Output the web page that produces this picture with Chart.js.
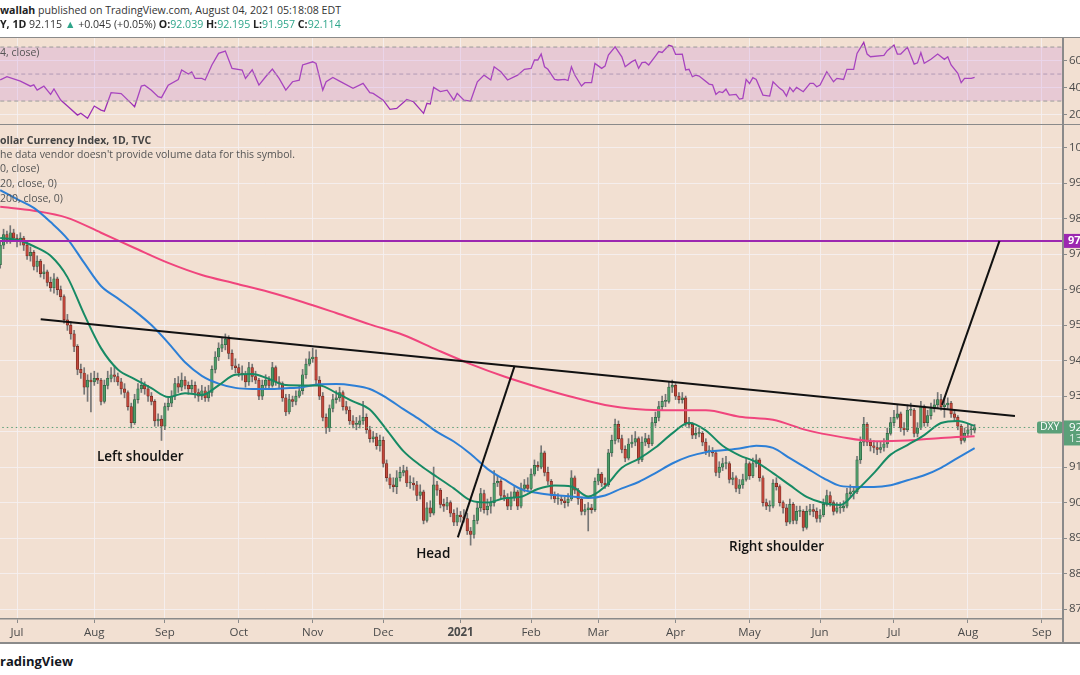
<!DOCTYPE html>
<html><head><meta charset="utf-8">
<script src="https://cdn.jsdelivr.net/npm/chart.js@4.4.1/dist/chart.umd.min.js"></script>
<style>
html,body{margin:0;padding:0;background:#fff;width:1080px;height:675px;overflow:hidden;font-family:"Open Sans",sans-serif;}
.abs{position:absolute;white-space:nowrap;}
#frame{position:absolute;left:0;top:37px;width:1080px;height:606px;background:#f2e0d2;}
.hl{position:absolute;left:0;width:1080px;background:#8a8a8a;}
.txt{font-size:10.5px;line-height:14px;color:#555;z-index:5;}
.hdr{font-size:10.6px;line-height:14px;color:#333;z-index:5;}
.teal{color:#2ea58a;}
b{font-weight:700;color:#222;}
.pre{visibility:hidden;}
canvas{position:absolute;left:0;}
</style></head>
<body>
<div id="frame"></div>
<canvas id="rsi" width="1080" height="86" style="top:38px"></canvas>
<canvas id="main" width="1080" height="518" style="top:125px"></canvas>
<div class="hl" style="top:37px;height:1px"></div>
<div class="hl" style="top:123.5px;height:1.5px"></div>
<div class="hl" style="top:642px;height:1.5px"></div>
<div class="abs" style="left:1062.3px;top:37px;width:1.5px;height:606px;background:#8a8a8a"></div>

<div class="abs hdr" style="left:0;top:3px"><b>wallah</b> published on TradingView.com, August 04, 2021 05:18:08 EDT</div>
<div class="abs hdr cut" style="top:17px"><span class="pre"><b>DX</b></span><b>Y, 1D</b> 92.115 <span class="teal">▲</span> +0.045 (+0.05%) <b>O:</b><span class="teal">92.039</span> <b>H:</b><span class="teal">92.195</span> <b>L:</b><span class="teal">91.957</span> <b>C:</b><span class="teal">92.114</span></div>
<div class="abs txt cut" style="top:45px"><span class="pre">RSI (1</span>4, close)</div>
<div class="abs txt cut" style="top:133px"><span class="pre"><b>U.S. D</b></span><b style="color:#444">ollar Currency Index, 1D, TVC</b></div>
<div class="abs txt cut" style="top:147px"><span class="pre">Volume: T</span>he data vendor doesn't provide volume data for this symbol.</div>
<div class="abs txt cut" style="top:161px"><span class="pre">MA (5</span>0, close)</div>
<div class="abs txt cut" style="top:176px"><span class="pre">EMA (</span>20, close, 0)</div>
<div class="abs txt cut" style="top:191px"><span class="pre">EMA (</span>200, close, 0)</div>
<div class="abs cut" style="top:652px;font-size:13px;font-weight:700;color:#131722"><span class="pre">T</span>radingView</div>

<script>
// ---------- DATA ----------
const firstIndex = -5;              // first bar = 24 Jun 2020 (index 0 = 1 Jul 2020)
const opens = [
96.70,97.25,97.55,97.40,97.60,97.45,97.35,97.45,97.25,96.95,
97.05,96.65,96.80,96.45,96.50,96.20,96.05,96.30,96.00,95.80,
95.15,95.00,94.75,94.40,93.75,93.65,93.25,93.45,93.40,93.50,
93.45,92.85,93.30,93.50,93.60,93.55,93.40,93.20,93.10,92.70,
92.25,92.90,93.20,93.30,93.20,93.00,92.85,92.30,92.35,92.15,
92.70,92.80,93.00,93.35,93.25,93.45,93.30,93.20,93.30,93.10,
93.00,93.15,92.95,93.10,93.75,94.10,94.35,94.45,94.60,94.20,
93.85,93.80,93.65,93.60,93.40,93.80,93.55,93.45,93.00,93.30,
93.45,93.30,93.80,93.40,93.35,92.95,92.55,92.90,92.85,93.00,
93.15,93.60,93.90,94.05,94.10,93.45,93.00,92.40,92.10,92.65,
92.90,92.95,93.10,92.70,92.60,92.30,92.20,92.20,92.30,92.40,
92.05,91.80,91.85,91.60,91.75,91.10,90.70,90.50,90.45,90.70,
90.85,90.90,90.55,90.55,90.50,90.20,90.30,89.50,89.85,89.70,
90.50,90.35,89.95,89.90,90.00,89.70,89.45,89.65,89.60,89.55,
89.20,89.10,89.50,89.85,90.25,89.80,89.90,90.00,90.55,90.60,
90.20,90.15,89.90,90.15,90.30,89.90,90.40,90.50,90.40,90.80,
91.05,91.00,91.40,90.85,90.60,90.20,90.10,90.10,90.05,90.00,
90.10,90.70,90.35,90.10,89.75,89.80,89.85,89.80,90.60,90.80,
90.55,90.50,91.40,91.75,92.20,91.80,91.50,91.25,91.65,91.70,
91.80,91.20,91.70,91.80,91.65,92.25,92.40,92.70,92.85,92.85,
93.25,93.30,93.00,92.90,92.95,92.25,92.20,91.90,91.95,91.95,
91.70,91.45,91.45,91.40,90.85,91.00,91.10,91.10,90.65,90.70,
90.40,90.50,90.65,91.10,90.75,91.10,91.20,90.70,90.00,89.90,
89.90,90.55,90.45,90.00,89.85,89.45,89.95,89.50,89.75,89.75,
89.30,89.75,89.80,89.75,89.55,89.65,89.95,90.20,90.00,89.75,
89.85,89.85,89.90,90.25,90.30,90.30,91.20,91.70,92.20,91.70,
91.60,91.55,91.50,91.55,91.65,91.95,92.25,92.40,92.50,92.10,
92.05,92.60,92.60,91.95,92.10,92.70,92.25,92.45,92.65,92.75,
92.90,92.70,92.75,92.80,92.50,92.40,92.15,91.75,91.95,92.05,
92.04];
const highs = [
97.35,97.70,97.65,97.80,97.70,97.55,97.60,97.50,97.35,97.20,
97.10,96.95,96.85,96.70,96.55,96.35,96.45,96.35,96.10,95.85,
95.30,95.10,94.85,94.45,93.90,93.80,93.60,93.65,93.70,93.65,
93.50,93.45,93.70,93.80,93.85,93.65,93.50,93.35,93.15,92.80,
93.05,93.35,93.50,93.40,93.30,93.10,92.90,92.50,92.45,92.80,
92.95,93.15,93.50,93.55,93.65,93.55,93.40,93.45,93.40,93.20,
93.30,93.25,93.30,93.85,94.25,94.50,94.65,94.75,94.70,94.30,
94.05,93.90,93.85,93.70,93.95,93.90,93.70,93.50,93.45,93.60,
93.55,93.95,93.85,93.55,93.40,93.05,93.05,93.00,93.15,93.30,
93.75,94.05,94.25,94.35,94.30,93.55,93.10,92.50,92.75,93.05,
93.15,93.25,93.15,92.85,92.70,92.45,92.40,92.45,92.85,92.50,
92.15,92.00,91.95,91.90,91.85,91.20,90.80,90.70,90.90,91.00,
91.05,91.00,90.75,90.70,90.60,90.50,90.35,90.00,90.05,91.00,
90.60,90.40,90.10,90.15,90.05,89.80,89.85,89.75,89.80,89.70,
89.30,89.65,90.00,90.40,90.35,90.10,90.15,90.90,90.75,90.65,
90.35,90.25,90.30,90.45,90.35,90.55,90.65,90.70,90.95,91.20,
91.15,91.60,91.45,91.00,90.65,90.30,90.25,90.20,90.15,90.25,
90.90,90.75,90.40,90.15,89.95,90.00,89.95,90.70,90.95,90.85,
90.70,91.50,91.90,92.35,92.30,91.90,91.60,91.80,91.90,92.00,
91.85,91.85,91.95,91.90,92.40,92.55,92.85,93.00,93.05,93.40,
93.45,93.35,93.10,93.10,93.00,92.40,92.25,92.10,92.10,92.00,
91.80,91.60,91.55,91.45,91.15,91.25,91.30,91.15,90.85,90.75,
90.65,90.80,91.25,91.15,91.25,91.35,91.25,90.75,90.10,90.05,
90.65,90.70,90.50,90.05,89.95,90.10,90.00,89.90,89.90,89.80,
89.90,89.95,89.95,89.85,89.80,90.10,90.35,90.30,90.05,90.00,
90.00,90.05,90.40,90.50,90.45,91.30,91.85,92.40,92.25,91.80,
91.75,91.70,91.70,91.80,92.10,92.40,92.60,92.75,92.55,92.25,
92.75,92.80,92.65,92.25,92.85,92.75,92.60,92.80,92.90,93.10,
93.05,92.95,92.95,92.85,92.60,92.45,92.20,92.10,92.20,92.20,
92.20];
const lows = [
96.60,97.15,97.30,97.30,97.35,97.20,97.25,97.10,96.85,96.80,
96.55,96.50,96.35,96.30,96.10,95.95,95.90,95.85,95.70,95.05,
94.85,94.60,94.25,93.60,93.50,93.05,92.85,92.55,93.30,93.35,
92.75,92.80,93.20,93.40,93.40,93.30,93.05,92.95,92.60,92.10,
92.20,92.80,93.10,93.05,92.85,92.75,92.15,92.15,91.75,92.05,
92.60,92.70,92.90,93.10,93.15,93.20,93.05,93.10,92.95,92.85,
92.90,92.85,92.85,93.00,93.65,94.00,94.25,94.30,94.05,93.75,
93.65,93.55,93.45,93.25,93.30,93.40,93.35,92.90,92.90,93.20,
93.20,93.25,93.30,93.20,92.85,92.45,92.50,92.70,92.75,92.95,
93.05,93.50,93.85,93.95,93.35,92.90,92.30,91.95,92.00,92.55,
92.80,92.85,92.60,92.50,92.20,92.10,92.05,92.10,92.20,91.95,
91.70,91.70,91.50,91.45,91.00,90.60,90.40,90.30,90.25,90.60,
90.75,90.45,90.40,90.35,90.05,90.10,89.40,89.45,89.60,89.65,
90.20,89.85,89.75,89.80,89.60,89.35,89.35,89.45,89.45,89.10,
88.80,89.00,89.40,89.75,89.70,89.65,89.70,89.90,90.45,90.10,
90.05,89.80,89.80,90.05,89.80,89.85,90.30,90.30,90.35,90.75,
90.90,90.95,90.75,90.50,90.10,90.00,89.95,89.95,89.85,89.90,
90.05,90.25,89.95,89.65,89.65,89.20,89.70,89.75,90.50,90.45,
90.40,90.45,91.30,91.65,91.70,91.40,91.15,91.20,91.55,91.60,
91.10,91.15,91.60,91.55,91.60,92.15,92.30,92.60,92.70,92.80,
93.10,92.90,92.80,92.80,92.15,92.10,91.80,91.80,91.85,91.60,
91.35,91.30,91.30,90.75,90.70,90.90,90.95,90.55,90.50,90.30,
90.25,90.40,90.60,90.65,90.70,91.00,90.60,89.90,89.80,89.75,
89.85,90.35,89.90,89.70,89.35,89.40,89.40,89.40,89.60,89.20,
89.25,89.65,89.60,89.45,89.45,89.60,89.90,89.90,89.65,89.70,
89.70,89.75,89.85,90.15,90.10,90.25,91.10,91.60,91.60,91.45,
91.40,91.35,91.40,91.45,91.55,91.90,92.15,92.35,92.00,91.90,
92.00,92.45,91.85,91.85,92.05,92.15,92.15,92.35,92.55,92.65,
92.60,92.40,92.65,92.40,92.30,92.05,91.65,91.70,91.85,91.90,
91.96];
const closes = [
97.25,97.55,97.40,97.60,97.45,97.35,97.45,97.25,96.95,97.05,
96.65,96.80,96.45,96.50,96.20,96.05,96.30,96.00,95.80,95.15,
95.00,94.75,94.40,93.75,93.65,93.25,93.45,93.40,93.50,93.45,
92.85,93.30,93.50,93.60,93.55,93.40,93.20,93.10,92.70,92.25,
92.90,93.20,93.30,93.20,93.00,92.85,92.30,92.35,92.15,92.70,
92.80,93.00,93.35,93.25,93.45,93.30,93.20,93.30,93.10,93.00,
93.15,92.95,93.10,93.75,94.10,94.35,94.45,94.60,94.20,93.85,
93.80,93.65,93.60,93.40,93.80,93.55,93.45,93.00,93.30,93.45,
93.30,93.80,93.40,93.35,92.95,92.55,92.90,92.85,93.00,93.15,
93.60,93.90,94.05,94.10,93.45,93.00,92.40,92.10,92.65,92.90,
92.95,93.10,92.70,92.60,92.30,92.20,92.20,92.30,92.40,92.05,
91.80,91.85,91.60,91.75,91.10,90.70,90.50,90.45,90.70,90.85,
90.90,90.55,90.55,90.50,90.20,90.30,89.50,89.85,89.70,90.50,
90.35,89.95,89.90,90.00,89.70,89.45,89.65,89.60,89.55,89.20,
89.10,89.50,89.85,90.25,89.80,89.90,90.00,90.55,90.60,90.20,
90.15,89.90,90.15,90.30,89.90,90.40,90.50,90.40,90.80,91.05,
91.00,91.40,90.85,90.60,90.20,90.10,90.10,90.05,90.00,90.10,
90.70,90.35,90.10,89.75,89.80,89.85,89.80,90.60,90.80,90.55,
90.50,91.40,91.75,92.20,91.80,91.50,91.25,91.65,91.70,91.80,
91.20,91.70,91.80,91.65,92.25,92.40,92.70,92.85,92.85,93.25,
93.30,93.00,92.90,92.95,92.25,92.20,91.90,91.95,91.95,91.70,
91.45,91.45,91.40,90.85,91.00,91.10,91.10,90.65,90.70,90.40,
90.50,90.65,91.10,90.75,91.10,91.20,90.70,90.00,89.90,89.90,
90.55,90.45,90.00,89.85,89.45,89.95,89.50,89.75,89.75,89.30,
89.75,89.80,89.75,89.55,89.65,89.95,90.20,90.00,89.75,89.85,
89.85,89.90,90.25,90.30,90.30,91.20,91.70,92.20,91.70,91.60,
91.55,91.50,91.55,91.65,91.95,92.25,92.40,92.50,92.10,92.05,
92.60,92.60,91.95,92.10,92.70,92.25,92.45,92.65,92.75,92.90,
92.70,92.75,92.80,92.50,92.40,92.15,91.75,91.95,92.05,92.07,
92.11];

// EMA 20 (green) and MA 50 (blue), read every 5 bars
const maIdx = [-5,0,5,10,15,20,25,30,35,40,45,50,55,60,65,70,75,80,85,90,95,100,105,110,115,120,125,130,135,140,145,150,155,160,165,170,175,180,185,190,195,200,205,210,215,220,225,230,235,240,245,250,255,260,265,270,275,280,285];
const ema20Vals = [97.45,97.40,97.22,96.95,96.35,95.30,94.35,93.75,93.48,93.22,92.97,93.08,93.03,93.30,93.60,93.62,93.48,93.31,93.30,93.30,93.09,92.85,92.62,92.05,91.45,91.05,90.72,90.40,90.06,90.00,90.12,90.16,90.38,90.48,90.45,90.17,90.45,90.98,91.23,91.55,91.95,92.25,92.03,91.60,91.33,91.14,90.83,90.49,90.16,89.99,89.93,90.35,90.83,91.35,91.62,91.90,92.24,92.30,92.16];
const ma50Vals = [98.80,98.55,98.30,97.90,97.43,96.75,96.10,95.75,95.40,95.00,94.50,93.95,93.57,93.35,93.23,93.20,93.20,93.22,93.25,93.33,93.34,93.30,93.20,92.95,92.63,92.33,91.99,91.72,91.37,90.95,90.65,90.38,90.27,90.21,90.17,90.13,90.20,90.40,90.58,90.83,91.10,91.30,91.42,91.47,91.52,91.60,91.54,91.25,90.97,90.69,90.47,90.44,90.44,90.49,90.63,90.77,90.98,91.26,91.53];
// EMA 200 (pink), read every 10 bars
const ema200Idx = [-5,5,15,25,35,45,55,65,75,85,95,105,115,125,135,145,155,165,175,185,195,205,215,225,235,245,255,265,275,285];
const ema200Vals = [98.33,98.22,98.02,97.60,97.17,96.75,96.41,96.17,95.93,95.65,95.34,95.02,94.72,94.30,93.90,93.55,93.25,92.98,92.75,92.63,92.60,92.60,92.42,92.33,92.04,91.85,91.73,91.75,91.82,91.87];

// RSI (14)
const rsiIdx = [-5,-3,1,4,5,6,8,10,11,13,15,18,19,21,23,25,26,28,31,34,35,37,38,40,42,43,45,48,49,51,52,53,55,56,58,60,62,64,67,68,70,72,74,76,78,80,82,84,85,88,89,91,92,94,96,100,103,105,106,109,111,113,116,118,121,122,123,124,126,128,130,131,133,135,137,139,141,142,144,146,149,151,153,154,155,156,157,158,160,161,163,164,165,166,168,169,171,172,174,175,176,178,180,181,183,184,185,186,187,188,190,191,192,194,195,196,198,199,200,201,202,203,206,207,208,209,210,211,212,214,215,216,217,218,219,220,222,224,225,227,228,229,230,231,232,234,236,237,238,239,241,243,244,246,247,249,250,252,253,254,258,259,261,262,263,265,267,268,269,270,272,274,276,277,278,280,281,282,284,285];
const rsiVals = [45.6,48,44.8,41,42,38.1,41,35,39,30.7,26.3,19.6,21,17.2,26.3,23.3,22.5,36.2,35.5,28.3,25.8,41.1,41.8,38,33.2,32.5,41.8,46,53,50,51.5,46.8,46.8,45.6,56.7,65.3,67,54.2,53,46.8,53.2,41.8,48,53.7,46.8,38.1,44.3,45.5,56.7,59.1,57.8,38.1,44.3,47.5,44.8,39.4,43.1,36.2,35.7,30.7,23.8,24.5,31.2,29.5,20.9,28.3,27.8,40.1,37,38.1,30.7,35.7,30.7,30,44.3,49.2,45.6,55.4,51.7,45.6,49.2,53.5,54.2,60.4,60.4,64.8,55.4,53.5,46,45.6,46,45.2,55.4,49.3,41.1,43.6,43.6,57.9,54.2,55.9,64,70.2,62.8,55.4,59.2,60.4,54.2,58.5,58.8,56.7,63.3,66.7,66,71.3,70.5,64.6,64.8,53,53.5,48,49.2,48.5,42.6,42,35,37,36.3,38.8,34.4,34.9,31.5,32,46,43,47.3,46,34.4,33.7,44.3,39.4,37.6,33.7,40.1,37,40.1,36.9,43.1,43.1,40.6,41.8,51.7,44.3,46.8,46,53.5,53.5,65.3,73.5,64.8,62.8,63.8,67.3,71.5,64.8,64.8,69.8,57.4,58.3,65.8,57.9,60.9,64.8,60.9,62.8,56.7,50.5,43.6,46.8,46.8,47.5];
const rsiLevels = [70, 50, 30];
const rsiTickVals = [20, 40, 60];

// drawn lines (bar index, price)
const necklineIdx = [7.05, 297];   const necklineVals = [95.16, 92.44];
const headLineIdx = [131.2, 148.1]; const headLineVals = [89.02, 93.85];
const targetIdx = [275.3, 292.4];  const targetVals = [92.75, 97.37];
const targetLevel = 97.37;
const lastPrice = 92.115;
const priceTickVals = [87,88,89,90,91,92,93,94,95,96,97,98,99,100];
const notes = [ {text:'Left shoulder', idx:23.8, val:91.28}, {text:'Head', idx:118.8, val:88.55}, {text:'Right shoulder', idx:211.9, val:88.75} ];
const monthNames = ['Jan','Feb','Mar','Apr','May','Jun','Jul','Aug','Sep','Oct','Nov','Dec'];

// ---------- derived ----------
const dates = [];
{ const d = new Date(Date.UTC(2020,5,24)); while (dates.length < 320) { const w = d.getUTCDay(); if (w !== 0 && w !== 6) dates.push(new Date(d)); d.setUTCDate(d.getUTCDate()+1); } }
const monthTicks = [];
for (let k = 1; k < dates.length; k++) {
  if (dates[k].getUTCMonth() !== dates[k-1].getUTCMonth()) {
    const m = dates[k].getUTCMonth();
    monthTicks.push({value: k + firstIndex, label: m === 0 ? String(dates[k].getUTCFullYear()) : monthNames[m]});
  }
}
const tickLabel = v => { const t = monthTicks.find(t => t.value === v); return t ? t.label : ''; };
const pts = (xs, ys) => xs.map((x, k) => ({x, y: ys[k]}));
const xMin = -5.06, xMax = 311.3;
const FONT = '"Open Sans", sans-serif';
const gridColor = 'rgba(246,240,242,0.85)';
const axisText = '#4a4a4a';

// ---------- RSI PANE ----------
const levelLine = v => [{x: xMin - 2, y: v}, {x: xMax + 2, y: v}];
new Chart(document.getElementById('rsi'), {
  type: 'line',
  data: { datasets: [
    {data: levelLine(rsiLevels[0]), borderColor: '#9b9b9b', borderDash: [4,3], borderWidth: 1, pointRadius: 0, fill: false},
    {data: levelLine(rsiLevels[2]), borderColor: '#9b9b9b', borderDash: [4,3], borderWidth: 1, pointRadius: 0, fill: '-1', backgroundColor: 'rgba(198,132,218,0.25)'},
    {data: levelLine(rsiLevels[1]), borderColor: '#a8a0a8', borderDash: [4,3], borderWidth: 1, pointRadius: 0, fill: false},
    {data: pts(rsiIdx, rsiVals), borderColor: '#9c2fb5', borderWidth: 1.3, pointRadius: 0, tension: 0, fill: false}
  ]},
  options: {
    responsive: false, animation: false, events: [],
    layout: {padding: 0},
    plugins: {legend: {display: false}, tooltip: {enabled: false}},
    scales: {
      x: {type: 'linear', min: xMin, max: xMax, offset: false,
          afterBuildTicks: s => { s.ticks = monthTicks.map(t => ({value: t.value})); },
          ticks: {display: false}, grid: {color: gridColor, drawTicks: false}, border: {display: false},
          afterFit: s => { s.height = 0; s.paddingLeft = 0; s.paddingRight = 0; }},
      y: {position: 'right', min: 13.0, max: 76.7,
          afterBuildTicks: s => { s.ticks = rsiTickVals.map(v => ({value: v})); },
          ticks: {callback: v => v.toFixed(2), color: axisText, font: {family: FONT, size: 11.5}, padding: 2},
          grid: {color: gridColor, tickColor: '#8a8a8a', tickLength: 4}, border: {display: false},
          afterFit: s => { s.width = 17; s.paddingTop = 0; s.paddingBottom = 0; }}
    }
  }
});

// ---------- MAIN PANE ----------
const upCol = '#4f9b69', dnCol = '#c2473b', upEdge = '#2c6442', dnEdge = '#74281f';
const bodies = closes.map((c, k) => ({x: k + firstIndex, y: [opens[k], c]}));
const wicks = closes.map((c, k) => ({x: k + firstIndex, y: [lows[k], highs[k]]}));
const isUp = closes.map((c, k) => c >= opens[k]);

const overlay = {
  id: 'overlay',
  afterDatasetsDraw(chart) {
    const {ctx, scales: {x, y}} = chart;
    ctx.save();
    ctx.fillStyle = '#111';
    ctx.font = '600 13.5px ' + FONT;
    ctx.textBaseline = 'middle';
    notes.forEach(n => ctx.fillText(n.text, x.getPixelForValue(n.idx), y.getPixelForValue(n.val)));
    ctx.restore();
  },
  afterDraw(chart) {
    const {ctx, chartArea: a, scales: {y}} = chart;
    ctx.save();
    const py = y.getPixelForValue(lastPrice);
    ctx.fillStyle = '#5ba079';
    ctx.beginPath(); ctx.roundRect(a.right - 26, py - 6, 25.5, 12, 2); ctx.fill();
    ctx.fillRect(a.right + 1, py - 7, 20, 25);
    ctx.fillStyle = '#fff';
    ctx.font = '10.5px ' + FONT; ctx.textBaseline = 'middle'; ctx.textAlign = 'center';
    ctx.fillText('DXY', a.right - 13.3, py);
    ctx.textAlign = 'left'; ctx.font = '11.5px ' + FONT;
    ctx.fillText(lastPrice.toFixed(3), a.right + 6, py);
    ctx.fillStyle = 'rgba(255,255,255,0.8)';
    ctx.fillText('13:41:52', a.right + 6, py + 11.5);
    const pp = y.getPixelForValue(targetLevel);
    ctx.fillStyle = '#9c27b0';
    ctx.fillRect(a.right + 1, pp - 7, 20, 14);
    ctx.fillStyle = '#fff'; ctx.font = 'bold 11px ' + FONT;
    ctx.fillText(targetLevel.toFixed(2), a.right + 5, pp);
    ctx.restore();
  }
};

new Chart(document.getElementById('main'), {
  type: 'bar',
  data: { datasets: [
    {type: 'line', data: pts(necklineIdx, necklineVals), borderColor: '#111', borderWidth: 2, pointRadius: 0, order: 1},
    {type: 'line', data: pts(headLineIdx, headLineVals), borderColor: '#111', borderWidth: 2, pointRadius: 0, order: 1},
    {type: 'line', data: pts(targetIdx, targetVals), borderColor: '#111', borderWidth: 2, pointRadius: 0, order: 1},
    {type: 'line', data: [{x: xMin - 2, y: targetLevel}, {x: xMax + 2, y: targetLevel}], borderColor: '#9c27b0', borderWidth: 2, pointRadius: 0, order: 2},
    {type: 'line', data: [{x: xMin - 2, y: lastPrice}, {x: xMax + 2, y: lastPrice}], borderColor: '#5a9e78', borderWidth: 1, borderDash: [1.5, 3], pointRadius: 0, order: 3},
    {type: 'line', data: pts(maIdx, ema20Vals), borderColor: '#178a64', borderWidth: 2, pointRadius: 0, cubicInterpolationMode: 'monotone', order: 4},
    {type: 'line', data: pts(maIdx, ma50Vals), borderColor: '#2d7fd6', borderWidth: 2, pointRadius: 0, cubicInterpolationMode: 'monotone', order: 5},
    {type: 'line', data: pts(ema200Idx, ema200Vals), borderColor: '#f0457d', borderWidth: 2, pointRadius: 0, cubicInterpolationMode: 'monotone', order: 6},
    {type: 'bar', data: bodies, backgroundColor: isUp.map(u => u ? upCol : dnCol), borderColor: isUp.map(u => u ? upEdge : dnEdge),
     borderWidth: 0.7, borderSkipped: false, barThickness: 2.6, minBarLength: 1, grouped: false, order: 7},
    {type: 'bar', data: wicks, backgroundColor: '#767676', borderWidth: 0, barThickness: 1, grouped: false, order: 8}
  ]},
  options: {
    responsive: false, animation: false, events: [],
    layout: {padding: 0},
    plugins: {legend: {display: false}, tooltip: {enabled: false}},
    scales: {
      x: {type: 'linear', min: xMin, max: xMax, offset: false,
          afterBuildTicks: s => { s.ticks = monthTicks.map(t => ({value: t.value})); },
          ticks: {callback: v => tickLabel(v), autoSkip: false, maxRotation: 0, padding: 3, color: axisText,
                  font: c => ({family: FONT, size: 11.5, weight: (c.tick && /^\d{4}$/.test(tickLabel(c.tick.value))) ? 'bold' : 'normal'})},
          grid: {color: gridColor, tickColor: '#8a8a8a', tickLength: 4, offset: false},
          border: {display: true, color: '#8a8a8a', width: 1.5},
          afterFit: s => { s.height = 24; s.paddingLeft = 0; s.paddingRight = 0; }},
      y: {position: 'right', min: 86.72, max: 100.635,
          afterBuildTicks: s => { s.ticks = priceTickVals.map(v => ({value: v})); },
          ticks: {callback: v => v.toFixed(2), color: axisText, font: {family: FONT, size: 11.5}, padding: 2},
          grid: {color: gridColor, tickColor: '#8a8a8a', tickLength: 4}, border: {display: false},
          afterFit: s => { s.width = 17; s.paddingTop = 0; s.paddingBottom = 0; }}
    }
  },
  plugins: [overlay]
});

// crop text on the left edge like the source screenshot
document.querySelectorAll('.cut').forEach(el => {
  const p = el.querySelector('.pre');
  el.style.left = (-p.getBoundingClientRect().width) + 'px';
});
</script>
</body></html>
